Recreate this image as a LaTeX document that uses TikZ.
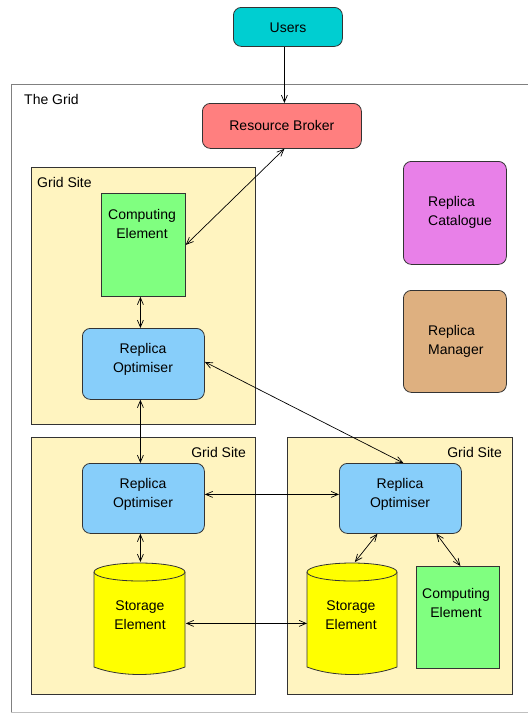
\documentclass[tikz,border=0pt]{standalone}
\usepackage{fontspec}
\setmainfont{Liberation Sans}
\usetikzlibrary{arrows.meta,calc}
\definecolor{usersc}{HTML}{00CED1}
\definecolor{rbc}{HTML}{FF7F7F}
\definecolor{sitec}{HTML}{FFF4C0}
\definecolor{cec}{HTML}{80FF80}
\definecolor{roc}{HTML}{87CEFA}
\definecolor{sec}{HTML}{FFFF00}
\definecolor{rcc}{HTML}{E880E8}
\definecolor{rmc}{HTML}{DEB080}
\definecolor{linec}{HTML}{333333}
\tikzset{
  every node/.style={font=\fontsize{14}{19}\selectfont},
  box/.style={draw=linec, line width=0.8pt, inner sep=0pt, anchor=north west, align=center},
  rbox/.style={box, rounded corners=8pt},
  txt/.style={align=center, inner sep=0pt},
  tip/.tip={Straight Barb[length=7pt,width=6pt]},
  conn/.style={draw=black, line width=0.7pt},
  bi/.style={conn, tip-tip},
  uni/.style={conn, -tip},
}
\begin{document}
\begin{tikzpicture}[x=1pt,y=-1pt]
\useasboundingbox (0,0) rectangle (528,713);
% The Grid frame
\draw[gray, line width=0.8pt] (535,84) -- (11,84) -- (11,712);
\draw[gray!50, line width=0.8pt] (11,712) -- (535,712);
\node[txt, anchor=west] (gridlbl) at (24,99) {The Grid};

% Users and broker
\node[rbox, fill=usersc, minimum width=109pt, minimum height=39pt] (users) at (233,7) {};
\node[txt] (userst) at (288,28) {Users};
\node[rbox, fill=rbc, minimum width=159pt, minimum height=45pt] (rb) at (202,103) {Resource Broker};

% Grid sites
\node[box, fill=sitec, minimum width=224pt, minimum height=257pt] (site1) at (31,167) {};
\node[txt, anchor=west] (site1lbl) at (37,182) {Grid Site};
\node[box, fill=sitec, minimum width=224pt, minimum height=257pt] (site2) at (31,437) {};
\node[txt, anchor=east] (site2lbl) at (246,452) {Grid Site};
\node[box, fill=sitec, minimum width=225pt, minimum height=257pt] (site3) at (287,437) {};
\node[txt, anchor=east] (site3lbl) at (502,452) {Grid Site};

% Site 1
\node[box, fill=cec, minimum width=84pt, minimum height=103pt] (ce1) at (101,193) {};
\node[txt] (ce1t) at (142,223.5) {Computing\\Element};
\node[rbox, fill=roc, minimum width=122pt, minimum height=71pt] (ro1) at (82,328) {};
\node[txt] (ro1t) at (143,359) {Replica\\Optimiser};

% Site 2
\node[rbox, fill=roc, minimum width=122pt, minimum height=70pt] (ro2) at (82,463) {};
\node[txt] (ro2t) at (143,494) {Replica\\Optimiser};
\node[box, draw=none, minimum width=91pt, minimum height=113pt] (se2) at (94,562) {};
\fill[sec] (94,572) -- (94,667) .. controls (120,677) and (159,677) .. (185,667) -- (185,572) -- cycle;
\draw[linec, line width=0.8pt] (94,572) -- (94,667) .. controls (120,677) and (159,677) .. (185,667) -- (185,572);
\draw[linec, line width=0.8pt, fill=sec] (139.5,572) ellipse [x radius=45.5, y radius=9];
\node[txt] (se2t) at (140,615.5) {Storage\\Element};

% Site 3
\node[rbox, fill=roc, minimum width=122pt, minimum height=70pt] (ro3) at (339,463) {};
\node[txt] (ro3t) at (400,494) {Replica\\Optimiser};
\node[box, draw=none, minimum width=90pt, minimum height=113pt] (se3) at (307,562) {};
\fill[sec] (307,572) -- (307,667) .. controls (333,677) and (371,677) .. (397,667) -- (397,572) -- cycle;
\draw[linec, line width=0.8pt] (307,572) -- (307,667) .. controls (333,677) and (371,677) .. (397,667) -- (397,572);
\draw[linec, line width=0.8pt, fill=sec] (352,572) ellipse [x radius=45, y radius=9];
\node[txt] (se3t) at (351,615.5) {Storage\\Element};
\node[box, fill=cec, minimum width=83pt, minimum height=102pt] (ce3) at (416,566) {};
\node[txt] (ce3t) at (456,602.5) {Computing\\Element};

% Replica catalogue / manager
\node[rbox, fill=rcc, minimum width=103pt, minimum height=103pt] (rc) at (403,161) {};
\node[txt, anchor=west, align=left] (rct) at (428,212) {Replica\\Catalogue};
\node[rbox, fill=rmc, minimum width=103pt, minimum height=102pt] (rm) at (403,290) {};
\node[txt, anchor=west, align=left] (rmt) at (428,341) {Replica\\Manager};

% Connectors
\draw[uni] ([xshift=-3.5pt]users.south) -- ([xshift=-3.5pt]users.south |- rb.north);
\draw[bi] ([xshift=2.5pt]rb.south) -- (ce1.east);
\draw[bi] ([xshift=-3pt]ce1.south) -- ([xshift=-3pt]ce1.south |- ro1.north);
\draw[bi] ([xshift=-3pt]ro1.south) -- ([xshift=-3pt]ro1.south |- ro2.north);
\draw[bi] ([yshift=2pt]ro1.east) -- ([xshift=3pt]ro3.north);
\draw[bi] ([yshift=4pt]ro2.east) -- ([yshift=4pt]ro3.west);
\draw[bi] ([xshift=-3pt]ro2.south) -- ([xshift=-3pt]ro2.south |- se2.north);
\draw[bi] ([yshift=-4.5pt]se2.east) -- ([yshift=-4.5pt]se3.west);
\draw[bi] ([xshift=-23pt]ro3.south) -- ([xshift=2.5pt]se3.north);
\draw[bi] ([xshift=36pt]ro3.south) -- ([xshift=2.5pt]ce3.north);
\end{tikzpicture}
\end{document}
